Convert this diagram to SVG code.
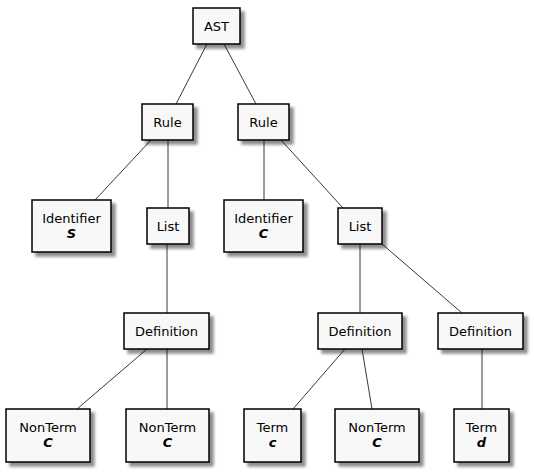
<svg xmlns="http://www.w3.org/2000/svg" width="534" height="472" viewBox="0 0 534 472">
<defs>
<filter id="sh" x="-20%" y="-20%" width="150%" height="150%">
<feGaussianBlur in="SourceAlpha" stdDeviation="1.5" result="b"/>
<feOffset in="b" dx="4" dy="4" result="o"/>
<feComponentTransfer in="o" result="s"><feFuncA type="linear" slope="0.45"/></feComponentTransfer>
<feMerge><feMergeNode in="s"/><feMergeNode in="SourceGraphic"/></feMerge>
</filter>
</defs>
<style>
.box{fill:#F8F8F8;stroke:#000;stroke-width:1.5;filter:url(#sh)}
.t{font-family:"DejaVu Sans",sans-serif;font-size:13px;fill:#000;text-anchor:middle}
.b{font-weight:bold;font-style:italic}
.e{stroke:#383838;stroke-width:1;fill:none}
</style>
<rect width="534" height="472" fill="#fff"/>
<g id="connectors">
<line class="e" x1="207" y1="44" x2="176" y2="104"/>
<line class="e" x1="224" y1="44" x2="256" y2="104"/>
<line class="e" x1="151" y1="140" x2="95" y2="200"/>
<line class="e" x1="168" y1="140" x2="168" y2="208"/>
<line class="e" x1="264" y1="140" x2="264" y2="200"/>
<line class="e" x1="281" y1="140" x2="343" y2="208"/>
<line class="e" x1="167" y1="244" x2="167" y2="313"/>
<line class="e" x1="360" y1="244" x2="360" y2="313"/>
<line class="e" x1="382" y1="244" x2="462" y2="313"/>
<line class="e" x1="147" y1="349" x2="77" y2="409"/>
<line class="e" x1="167" y1="349" x2="167" y2="409"/>
<line class="e" x1="345" y1="349" x2="293" y2="409"/>
<line class="e" x1="362" y1="349" x2="372" y2="409"/>
<line class="e" x1="482" y1="349" x2="482" y2="409"/>
</g>
<g id="ast"><rect class="box" x="193" y="8" width="47" height="36"/><text class="t" x="216.5" y="31">AST</text></g>
<g id="rule1"><rect class="box" x="142" y="104" width="51" height="36"/><text class="t" x="167.5" y="127">Rule</text></g>
<g id="rule2"><rect class="box" x="238" y="104" width="51" height="36"/><text class="t" x="263.5" y="127">Rule</text></g>
<g id="ident1"><rect class="box" x="32" y="200" width="79" height="52"/><text class="t" x="71.5" y="223">Identifier</text><text class="t b" x="71.5" y="238">S</text></g>
<g id="list1"><rect class="box" x="147" y="208" width="42" height="36"/><text class="t" x="168" y="231">List</text></g>
<g id="ident2"><rect class="box" x="224" y="200" width="79" height="52"/><text class="t" x="263.5" y="223">Identifier</text><text class="t b" x="263.5" y="238">C</text></g>
<g id="list2"><rect class="box" x="338" y="208" width="44" height="36"/><text class="t" x="360" y="231">List</text></g>
<g id="def1"><rect class="box" x="124" y="313" width="85" height="36"/><text class="t" x="166.5" y="336">Definition</text></g>
<g id="def2"><rect class="box" x="318" y="313" width="84" height="36"/><text class="t" x="360" y="336">Definition</text></g>
<g id="def3"><rect class="box" x="438" y="313" width="85" height="36"/><text class="t" x="480.5" y="336">Definition</text></g>
<g id="nonterm1"><rect class="box" x="6" y="409" width="84" height="53"/><text class="t" x="48" y="432">NonTerm</text><text class="t b" x="48" y="447">C</text></g>
<g id="nonterm2"><rect class="box" x="126" y="409" width="83" height="53"/><text class="t" x="167.5" y="432">NonTerm</text><text class="t b" x="167.5" y="447">C</text></g>
<g id="term1"><rect class="box" x="244" y="409" width="57" height="53"/><text class="t" x="272.5" y="432">Term</text><text class="t b" x="272.5" y="447">c</text></g>
<g id="nonterm3"><rect class="box" x="335" y="409" width="84" height="53"/><text class="t" x="377" y="432">NonTerm</text><text class="t b" x="377" y="447">C</text></g>
<g id="term2"><rect class="box" x="454" y="409" width="55" height="53"/><text class="t" x="481.5" y="432">Term</text><text class="t b" x="481.5" y="447">d</text></g>
</svg>
